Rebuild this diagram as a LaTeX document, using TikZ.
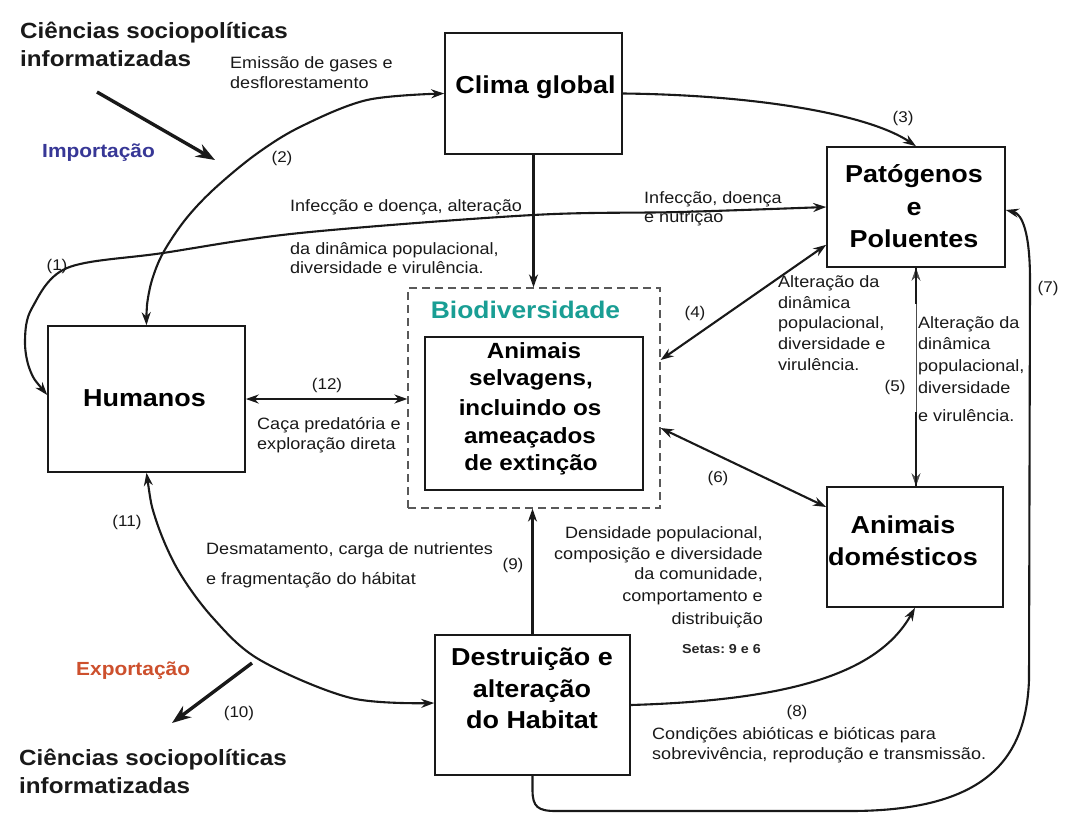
\documentclass[tikz,border=0pt]{standalone}
\usepackage{fontspec}
\setmainfont[FakeStretch=1.1]{Liberation Sans}
\usetikzlibrary{arrows.meta,calc}
\definecolor{bioteal}{RGB}{25,158,148}
\definecolor{impblue}{RGB}{55,55,150}
\definecolor{expred}{RGB}{205,80,45}
\frenchspacing
\begin{document}
\begin{tikzpicture}[x=1pt,y=-1pt,
  box/.style={draw=black!90, line width=1.6pt, inner sep=0pt},
  dbox/.style={draw=black!65, line width=1.2pt, dash pattern=on 8pt off 5pt, inner sep=0pt},
  conn/.style={line width=2.1pt, draw=black!90},
  arr/.style={conn, -{Stealth[length=13pt,width=9pt]}},
  darr/.style={conn, {Stealth[length=13pt,width=9pt]}-{Stealth[length=13pt,width=9pt]}},
  bigarr/.style={line width=3.4pt, draw=black!90, -{Stealth[length=19pt,width=14pt]}},
  lbl/.style={font=\fontsize{16.4}{20}\selectfont, inner sep=0pt, anchor=base west, text=black!90},
  num/.style={font=\fontsize{15.5}{18}\selectfont, inner sep=0pt, anchor=base, text=black!90},
  boxt/.style={font=\bfseries\fontsize{24.5}{30}\selectfont, inner sep=0pt, anchor=base},
  wildt/.style={font=\bfseries\fontsize{22}{28}\selectfont, inner sep=0pt, anchor=base},
  ttl/.style={font=\bfseries\fontsize{22}{28}\selectfont, inner sep=0pt, anchor=base west, text=black!90},
]
\fill[white] (0,0) rectangle (1092,825);
\useasboundingbox (0,0) rectangle (1092,825);

% boxes
\node[box, minimum width=177pt, minimum height=121pt] (clima) at (533.5,93.5) {};
\node[box, minimum width=178pt, minimum height=120pt] (pat) at (916,207) {};
\node[box, minimum width=197pt, minimum height=146pt] (hum) at (146.5,399) {};
\node[dbox, minimum width=252pt, minimum height=220pt] (bio) at (534,398) {};
\node[box, minimum width=218pt, minimum height=153pt] (wild) at (534,413.5) {};
\node[box, minimum width=176pt, minimum height=120pt] (dom) at (915,547) {};
\node[box, minimum width=195pt, minimum height=140pt] (hab) at (532.5,705) {};

% box texts
\node[boxt] (climat) at (535.5,93) {Clima global};
\node[boxt] (humt) at (144.5,406) {Humanos};
\node[boxt] (patt1) at (914,182) {Patógenos};
\node[boxt] (patt2) at (914,215) {e};
\node[boxt] (patt3) at (914,247) {Poluentes};
\node[boxt] (domt1) at (903,533) {Animais};
\node[boxt] (domt2) at (903,565) {domésticos};
\node[boxt] (habt1) at (532,665) {Destruição e};
\node[boxt] (habt2) at (532,697) {alteração};
\node[boxt] (habt3) at (532,728) {do Habitat};
\node[wildt] (wildt1) at (534,358) {Animais};
\node[wildt] (wildt2) at (531,385) {selvagens,};
\node[wildt] (wildt3) at (530,415) {incluindo os};
\node[wildt] (wildt4) at (530,443) {ameaçados};
\node[wildt] (wildt5) at (531,470) {de extinção};
\node[font=\bfseries\fontsize{24}{30}\selectfont, inner sep=0pt, anchor=base, text=bioteal] (biot) at (525.5,318) {Biodiversidade};

% titles
\node[ttl] (ttop1) at (20,38) {Ciências sociopolíticas};
\node[ttl] (ttop2) at (20,66) {informatizadas};
\node[ttl] (tbot1) at (19,765) {Ciências sociopolíticas};
\node[ttl] (tbot2) at (19,793) {informatizadas};
\node[font=\bfseries\fontsize{19}{24}\selectfont, inner sep=0pt, anchor=base west, text=impblue] (imp) at (42,157) {Importação};
\node[font=\bfseries\fontsize{19}{24}\selectfont, inner sep=0pt, anchor=base west, text=expred] (exp) at (76,675) {Exportação};

% labels
\node[lbl] (em1) at (230,68) {Emissão de gases e};
\node[lbl] (em2) at (230,88) {desflorestamento};
\node[lbl] (inf1) at (290,211) {Infecção e doença, alteração};
\node[lbl] (inf2) at (290,254) {da dinâmica populacional,};
\node[lbl] (inf3) at (290,273) {diversidade e virulência.};
\node[lbl] (infn1) at (644,203) {Infecção, doença};
\node[lbl] (infn2) at (644,222) {e nutrição};
\node[lbl] (altl1) at (778,287.5) {Alteração da};
\node[lbl] (altl2) at (778,308) {dinâmica};
\node[lbl] (altl3) at (778,328.5) {populacional,};
\node[lbl] (altl4) at (778,349) {diversidade e};
\node[lbl] (altl5) at (778,370) {virulência.};
\node[lbl] (altr1) at (918,328) {Alteração da};
\node[lbl] (altr2) at (918,349) {dinâmica};
\node[lbl] (altr3) at (918,371) {populacional,};
\node[lbl] (altr4) at (918,393) {diversidade};
\node[lbl] (altr5) at (918,421) {e virulência.};
\node[lbl] (caca1) at (257,429) {Caça predatória e};
\node[lbl] (caca2) at (257,449) {exploração direta};
\node[lbl] (desm1) at (206,554) {Desmatamento, carga de nutrientes};
\node[lbl] (desm2) at (206,584) {e fragmentação do hábitat};
\node[lbl, anchor=base east] (dens1) at (763,538) {Densidade populacional,};
\node[lbl, anchor=base east] (dens2) at (763,559) {composição e diversidade};
\node[lbl, anchor=base east] (dens3) at (763,579) {da comunidade,};
\node[lbl, anchor=base east] (dens4) at (763,601) {comportamento e};
\node[lbl, anchor=base east] (dens5) at (763,624) {distribuição};
\node[font=\bfseries\fontsize{13}{16}\selectfont, inner sep=0pt, anchor=base east, text=black!85] (setas) at (761,653) {Setas: 9 e 6};
\node[lbl] (cond1) at (652,739) {Condições abióticas e bióticas para};
\node[lbl] (cond2) at (652,759) {sobrevivência, reprodução e transmissão.};

% numbers
\node[num] (n1) at (57,270) {(1)};
\node[num] (n2) at (282,162) {(2)};
\node[num] (n3) at (903,122) {(3)};
\node[num] (n4) at (695,317) {(4)};
\node[num] (n5) at (895,391) {(5)};
\node[num] (n6) at (718,482) {(6)};
\node[num] (n7) at (1048,292) {(7)};
\node[num] (n8) at (797,716) {(8)};
\node[num] (n9) at (513,569) {(9)};
\node[num] (n10) at (239,717) {(10)};
\node[num] (n11) at (127,526) {(11)};
\node[num] (n12) at (327,389) {(12)};

% helper coordinates
\coordinate (humw) at ($(hum.west)+(0,-4)$);
\coordinate (pat4) at ($(pat.south west)+(0,-23)$);
\coordinate (bio4) at ($(bio.east)+(0,-38)$);
\coordinate (bio6) at ($(bio.east)+(0,30)$);
\coordinate (dom6) at ($(dom.west)+(0,-40)$);
\coordinate (hab11) at ($(hab.west)+(0,-2)$);
\coordinate (pat7) at ($(pat.east)+(0,3)$);
\coordinate (i1) at (97,92);
\coordinate (i2) at (215,160);
\coordinate (e1) at (252,663);
\coordinate (e2) at (172,723);

% connectors
% (1)
\draw[darr] plot[smooth, tension=0.55] coordinates {(humw) (30,370) (25,340) (32,308) (67,268) (163,253) (300,233) (533,215) (680,212) (pat.west)};
% (2)
\draw[darr] plot[smooth, tension=0.55] coordinates {(hum.north) (147,305) (152,280) (163,253) (185,220) (213,190) (255,155) (300,127) (367,100) (clima.west)};
% (3)
\draw[arr] (clima.east) .. controls (760,95) and (870,115) .. (pat.north);
% clima -> bio
\draw[arr] (clima.south) -- (clima.south |- bio.north);
% (4)
\draw[darr] (pat4) -- (bio4);
% (5)
\draw[line width=0.7pt, black!70, {Stealth[length=13pt,width=9pt]}-{Stealth[length=13pt,width=9pt]}] (pat.south) -- (pat.south |- dom.north);
\coordinate (p5a) at ($(pat.south)+(0,36)$);
\coordinate (p5b) at ($(pat.south |- dom.north)+(0,-74)$);
\draw[conn] (pat.south) -- (p5a);
\draw[conn] (p5b) -- (pat.south |- dom.north);
% (6)
\draw[darr] (bio6) -- (dom6);
% (7)
\draw[arr] (hab.south) -- (532.5,790) .. controls (532.5,807) and (538,811) .. (556,811) -- (850,811) .. controls (985,811) and (1026,760) .. (1029,680) -- (1030,280) .. controls (1030,232) and (1022,214) .. (pat7);
% (8)
\draw[arr] (hab.east) .. controls (800,700) and (880,670) .. (dom.south);
% (9)
\draw[arr] (hab.north) -- (hab.north |- bio.south);
% (11)
\draw[darr] plot[smooth, tension=0.55] coordinates {(hum.south) (156,520) (178,570) (213,618) (260,660) (351,698) (hab11)};
% (12)
\draw[darr] (hum.east) -- (hum.east -| bio.west);
% import / export
\draw[bigarr] (i1) -- (i2);
\draw[bigarr] (e1) -- (e2);
\end{tikzpicture}
\end{document}
